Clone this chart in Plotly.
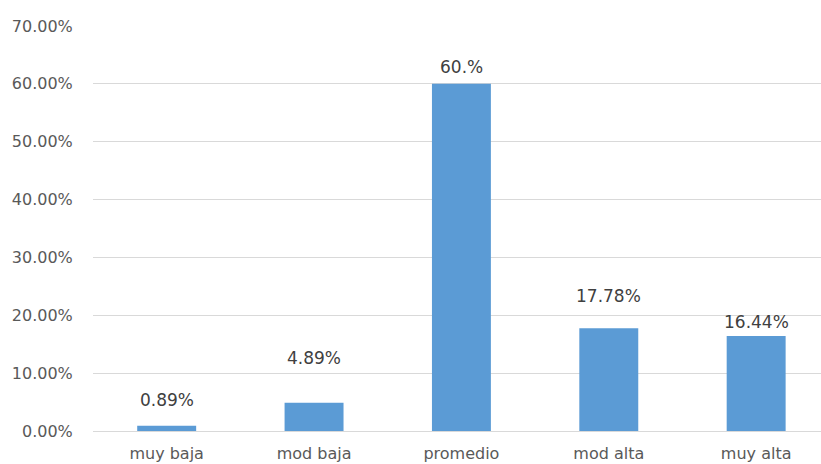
import plotly.graph_objects as go

categories = ["muy baja", "mod baja", "promedio", "mod alta", "muy alta"]
values = [0.89, 4.89, 60.0, 17.78, 16.44]
value_labels = ["0.89%", "4.89%", "60.%", "17.78%", "16.44%"]
y_ticks = [0, 10, 20, 30, 40, 50, 60, 70]
y_tick_labels = ["0.00%", "10.00%", "20.00%", "30.00%", "40.00%", "50.00%", "60.00%", "70.00%"]

# distance (px) from each bar top to the centre of its data label
label_lift = [26, 45, 17, 32, 14]

font_family = "DejaVu Sans, sans-serif"

fig = go.Figure()
fig.add_trace(go.Bar(
    x=categories,
    y=values,
    marker=dict(color="#5B9BD5", line=dict(width=0)),
    width=0.4,
    hoverinfo="skip",
))

for cat, val, lab, lift in zip(categories, values, value_labels, label_lift):
    fig.add_annotation(
        x=cat, y=val, text=lab, showarrow=False,
        yanchor="middle", yshift=lift,
        font=dict(family=font_family, size=17, color="#404040"),
    )

fig.update_layout(
    width=821, height=464,
    margin=dict(l=93, r=0, t=26, b=33),
    paper_bgcolor="white", plot_bgcolor="white",
    showlegend=False,
    font=dict(family=font_family, color="#595959"),
)
fig.update_xaxes(
    range=[-0.5, 4.44],
    automargin=False,
    showgrid=False, zeroline=False,
    showline=False,
    tickfont=dict(size=16, color="#595959"),
    ticks="outside", ticklen=8, tickcolor="rgba(0,0,0,0)",
)
fig.update_yaxes(
    range=[0, 70],
    automargin=False,
    tickvals=y_ticks, ticktext=y_tick_labels,
    showgrid=True, gridcolor="#d9d9d9", gridwidth=1,
    zeroline=True, zerolinecolor="#d9d9d9", zerolinewidth=1,
    showline=False,
    tickfont=dict(size=16, color="#595959"),
    ticks="outside", ticklen=16, tickcolor="rgba(0,0,0,0)",
)

fig.write_html("out.html")
